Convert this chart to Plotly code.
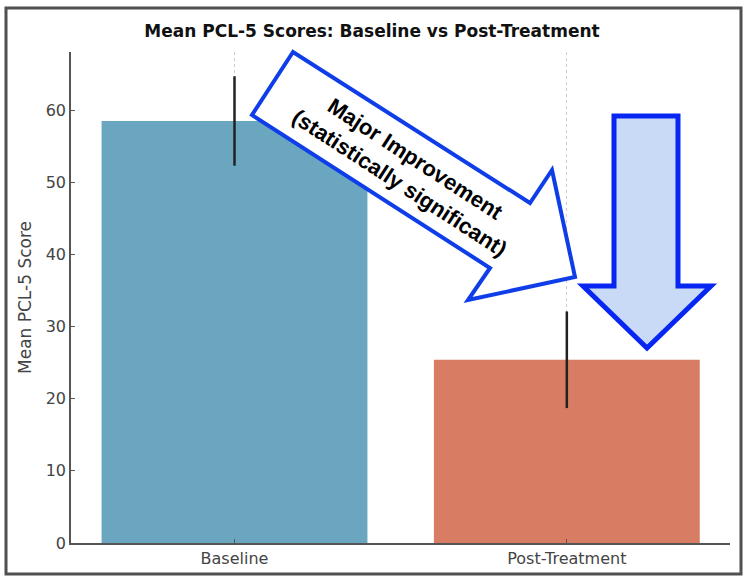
import plotly.graph_objects as go

# ---- data ----
categories = ["Baseline", "Post-Treatment"]
mean_scores = [58.5, 25.4]
score_errors = [6.2, 6.7]
bar_colors = ["#6aa6c0", "#d87c64"]
y_ticks = [0, 10, 20, 30, 40, 50, 60]

# ---- layout geometry (pixels) ----
W, H = 750, 584
ML, MR, MT, MB = 71, 20, 52, 41
PW, PH = W - ML - MR, H - MT - MB


def px(x):
    return (x - ML) / PW


def py(y):
    return (H - MB - y) / PH


def path(points):
    s = "M " + " L ".join(f"{px(a):.5f},{py(b):.5f}" for a, b in points)
    return s + " Z"


fig = go.Figure()
fig.add_trace(go.Bar(
    x=categories,
    y=mean_scores,
    width=0.8,
    marker=dict(color=bar_colors, line=dict(width=0)),
    error_y=dict(type="data", array=score_errors, visible=True,
                 thickness=2.5, width=0, color="#222222"),
    showlegend=False,
))

diag_arrow = [(293, 52), (252, 115), (490, 268), (468, 300), (575, 277),
              (552, 170), (530, 203)]
down_arrow = [(614, 116), (678, 116), (678, 286), (711, 286), (647, 348),
              (583, 286), (614, 286)]

shapes = [
    dict(type="rect", xref="paper", yref="paper",
         x0=px(6), x1=px(741), y0=py(574), y1=py(8),
         line=dict(color="#505050", width=3), fillcolor="rgba(0,0,0,0)",
         layer="below"),
    dict(type="path", xref="paper", yref="paper", path=path(diag_arrow),
         fillcolor="white", line=dict(color="#0f3ee8", width=4), layer="above"),
    dict(type="path", xref="paper", yref="paper", path=path(down_arrow),
         fillcolor="#c8daf6", line=dict(color="#0726f2", width=5), layer="above"),
]

fig.update_layout(
    width=W, height=H,
    margin=dict(l=ML, r=MR, t=MT, b=MB, pad=0),
    paper_bgcolor="white", plot_bgcolor="white",
    title=dict(text="<b>Mean PCL-5 Scores: Baseline vs Post-Treatment</b>",
               x=(372) / W, xanchor="center", y=1 - 31 / H, yanchor="middle",
               font=dict(family="DejaVu Sans", size=17, color="#111111")),
    shapes=shapes,
    annotations=[dict(
        xref="paper", yref="paper", x=px(407), y=py(171),
        xanchor="center", yanchor="middle",
        text="<b>Major Improvement<br>(statistically significant)</b>",
        showarrow=False, textangle=33, align="center",
        font=dict(family="Liberation Sans", size=22, color="black"),
    )],
    bargap=0.2,
)

fig.update_xaxes(
    range=[-0.492, 1.491],
    showline=True, linecolor="#555555", linewidth=1.5,
    ticks="inside", ticklen=4, tickcolor="#555555",
    showgrid=True, gridcolor="#cccccc", griddash="dot", gridwidth=1,
    layer="above traces",
    tickfont=dict(family="DejaVu Sans", size=16, color="#444444"),
)
fig.update_yaxes(
    range=[0, 68.06],
    tickvals=y_ticks,
    showline=True, linecolor="#555555", linewidth=1.5,
    ticks="inside", ticklen=4, tickcolor="#555555",
    showgrid=False, zeroline=False,
    tickfont=dict(family="DejaVu Sans", size=16, color="#444444"),
    title=dict(text="Mean PCL-5 Score", standoff=10,
               font=dict(family="DejaVu Sans", size=17, color="#444444")),
)

fig.write_html(
    "out.html",
    config={"displayModeBar": False},
    post_script="document.body.style.margin='0';document.body.style.padding='0';",
)
